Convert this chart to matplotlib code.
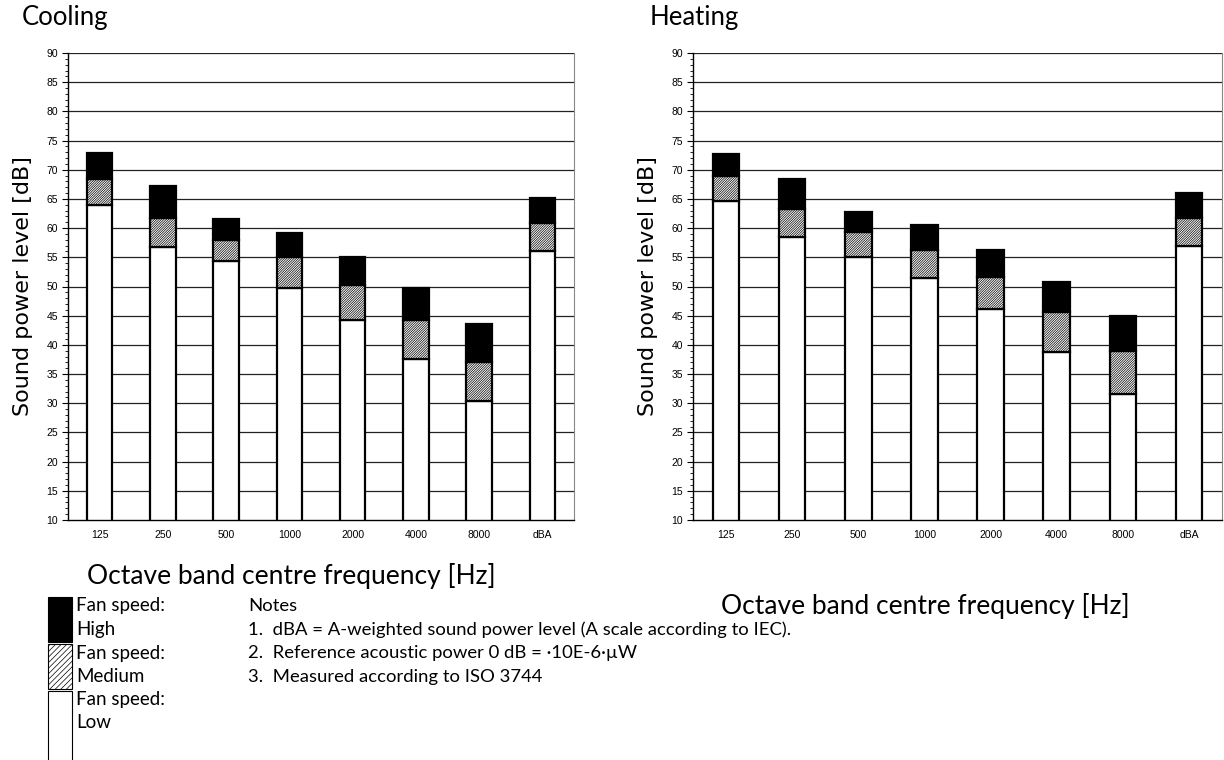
import numpy as np
import matplotlib
matplotlib.use('Agg')
from matplotlib import pyplot as plt
from matplotlib.patches import Rectangle

bands = ['125', '250', '500', '1000', '2000', '4000', '8000', 'dBA']

# cooling
cool_low = [64.0, 56.8, 54.4, 49.7, 44.3, 37.5, 30.3, 56.0]
cool_mid = [68.5, 61.8, 58.0, 55.0, 50.2, 44.2, 37.1, 60.8]
cool_high = [72.8, 67.2, 61.5, 59.1, 55.1, 49.8, 43.5, 65.1]

# heating
heat_low = [64.7, 58.5, 55.0, 51.4, 46.1, 38.8, 31.5, 57.0]
heat_mid = [68.9, 63.2, 59.3, 56.3, 51.6, 45.7, 38.9, 61.8]
heat_high = [72.7, 68.4, 62.8, 60.6, 56.2, 50.8, 45.0, 66.1]

notes = ['Notes',
         '1.  dBA = A-weighted sound power level (A scale according to IEC).',
         '2.  Reference acoustic power 0 dB = \u00b710E-6\u00b7\u00b5W',
         '3.  Measured according to ISO 3744']

plt.rcParams['hatch.linewidth'] = 0.5
W, H = 1224, 760
fig = plt.figure(figsize=(W / 100, H / 100), dpi=100)


def px(x0, y0, x1, y1):
    return [x0 / W, 1 - y1 / H, (x1 - x0) / W, (y1 - y0) / H]


def panel(rect, low, mid, high, title, title_xy, xl_xy):
    ax = fig.add_axes(rect)
    x = np.arange(len(bands))
    ax.set_xlim(-0.5, len(bands) - 0.5)
    ax.set_ylim(10, 90)
    for y in range(15, 91, 5):
        ax.axhline(y, color='#222222', lw=0.9, zorder=0)
    w = 0.4
    ax.bar(x, low, w, color='white', edgecolor='black', lw=1.6, zorder=2)
    ax.bar(x, np.subtract(mid, low), w, bottom=low, color='white', edgecolor='black',
           hatch='//////////////', lw=1.6, zorder=2)
    ax.bar(x, np.subtract(high, mid), w, bottom=mid, color='black', edgecolor='black',
           lw=1.6, zorder=2)
    ax.set_xticks(x)
    ax.set_xticklabels(bands, fontsize=7.5, family='Liberation Sans')
    ax.tick_params(axis='x', length=0, pad=7)
    ax.set_yticks(range(10, 91, 5))
    ax.set_yticks(range(10, 91, 1), minor=True)
    ax.tick_params(axis='y', which='major', length=4, width=0.8, labelsize=7.5, pad=3)
    ax.tick_params(axis='y', which='minor', length=2, width=0.6)
    for lab in ax.get_yticklabels():
        lab.set_family('Liberation Sans')
    ax.spines['top'].set_visible(False)
    ax.spines['right'].set_color('#888888')
    ax.spines['right'].set_linewidth(0.8)
    ax.spines['left'].set_linewidth(1.0)
    ax.spines['bottom'].set_linewidth(1.0)
    ax.set_ylabel('Sound power level [dB]', fontsize=16, family='DejaVu Sans', labelpad=10)
    fig.text(title_xy[0] / W, 1 - title_xy[1] / H, title, fontsize=18.5, family='Lato',
             ha='left', va='center')
    fig.text(xl_xy[0] / W, 1 - xl_xy[1] / H, 'Octave band centre frequency [Hz]',
             fontsize=19, family='Lato', ha='center', va='center')
    return ax


panel(px(68, 53, 574, 520), cool_low, cool_mid, cool_high, 'Cooling', (22, 18), (291, 576))
panel(px(693, 53, 1222, 520), heat_low, heat_mid, heat_high, 'Heating', (650, 18), (925, 606))

# legend drawn by hand
lg = fig.add_axes([0, 0, 1, 1])
lg.set_xlim(0, W)
lg.set_ylim(H, 0)
lg.axis('off')
boxes = [(597, 'black', None, 'High'), (644, 'white', '//////', 'Medium'),
         (691, 'white', None, 'Low')]
for y0, fc, hatch, name in boxes:
    lg.add_patch(Rectangle((48, y0), 24, 45 if y0 < 691 else 90, facecolor=fc,
                           edgecolor='black', hatch=hatch, lw=0.8))
    lg.text(76, y0 + 9, 'Fan speed:', fontsize=13.5, family='Lato', va='center')
    lg.text(76, y0 + 32, name, fontsize=13.5, family='Lato', va='center')

for i, line in enumerate(notes):
    lg.text(248, 606 + 23.7 * i, line, fontsize=13.3, family='Lato', va='center')

fig.savefig('out.png', dpi=100)
